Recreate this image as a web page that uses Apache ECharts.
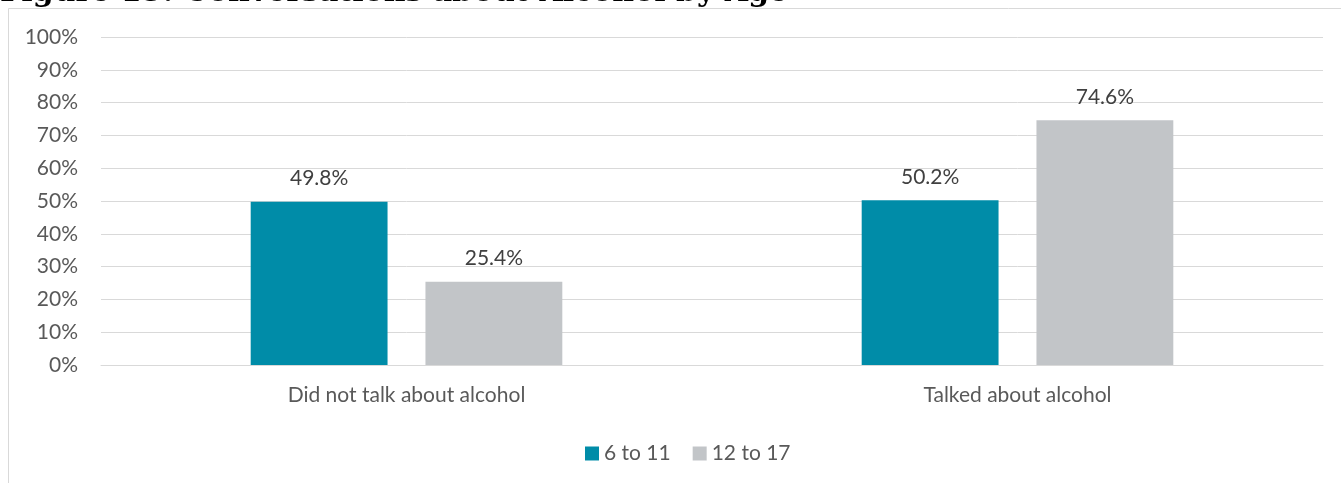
<!DOCTYPE html>
<html>
<head>
<meta charset="utf-8">
<script src="https://cdn.jsdelivr.net/npm/echarts@6/dist/echarts.min.js"></script>
<style>
html,body{margin:0;padding:0;background:#fff;}
#chart{width:1341px;height:483px;}
</style>
</head>
<body>
<div id="chart"></div>
<script>
const titleText = "Figure 15: Conversations about Alcohol by Age";
const categories = ["Did not talk about alcohol", "Talked about alcohol"];
const seriesNames = ["6 to 11", "12 to 17"];
const age6to11 = [49.8, 50.2];
const age12to17 = [25.4, 74.6];
const yTicks = [0, 10, 20, 30, 40, 50, 60, 70, 80, 90, 100];

const FONT = "Lato, 'Open Sans', sans-serif";
const FS = 21;
const chart = echarts.init(document.getElementById('chart'), null, {renderer: 'canvas'});

function makeSeries(name, data, color) {
  return {
    name: name,
    type: 'bar',
    data: data,
    barGap: '27.7%',
    barCategoryGap: '49%',
    itemStyle: {color: color},
    label: {
      show: true,
      position: 'top',
      distance: 13,
      color: '#404040',
      fontFamily: FONT,
      fontSize: FS,
      formatter: p => p.value.toFixed(1) + '%'
    }
  };
}

chart.setOption({
  animation: false,
  backgroundColor: '#ffffff',
  graphic: [
    {
      type: 'rect', silent: true, z: -10,
      shape: {x: 8.5, y: 8.5, width: 1400, height: 520},
      style: {fill: '#ffffff', stroke: '#d9d9d9', lineWidth: 1}
    },
    {
      type: 'text', silent: true, z: 10,
      x: 0, y: 8,
      style: {
        text: titleText,
        fontFamily: "'DejaVu Serif', serif",
        fontWeight: 'bold',
        fontSize: 30,
        fill: '#000000',
        verticalAlign: 'bottom'
      }
    }
  ],
  grid: {left: 101, right: 18, top: 37, bottom: 118, containLabel: false},
  legend: {
    data: seriesNames,
    left: 580,
    top: 438,
    itemWidth: 14,
    itemHeight: 14,
    itemGap: 22,
    icon: 'rect',
    textStyle: {color: '#595959', fontFamily: FONT, fontSize: FS}
  },
  xAxis: {
    type: 'category',
    data: categories,
    axisLine: {show: true, lineStyle: {color: '#d9d9d9', width: 1}},
    axisTick: {show: false},
    axisLabel: {color: '#595959', fontFamily: FONT, fontSize: FS, margin: 20}
  },
  yAxis: {
    type: 'value',
    min: 0,
    max: 100,
    interval: 10,
    axisLine: {show: false},
    axisTick: {show: false},
    splitLine: {lineStyle: {color: '#d9d9d9', width: 1}},
    axisLabel: {
      color: '#595959', fontFamily: FONT, fontSize: FS, margin: 23,
      formatter: v => yTicks.includes(v) ? v + '%' : ''
    }
  },
  series: [
    makeSeries(seriesNames[0], age6to11, '#008CA8'),
    makeSeries(seriesNames[1], age12to17, '#C2C5C8')
  ]
});
</script>
</body>
</html>
